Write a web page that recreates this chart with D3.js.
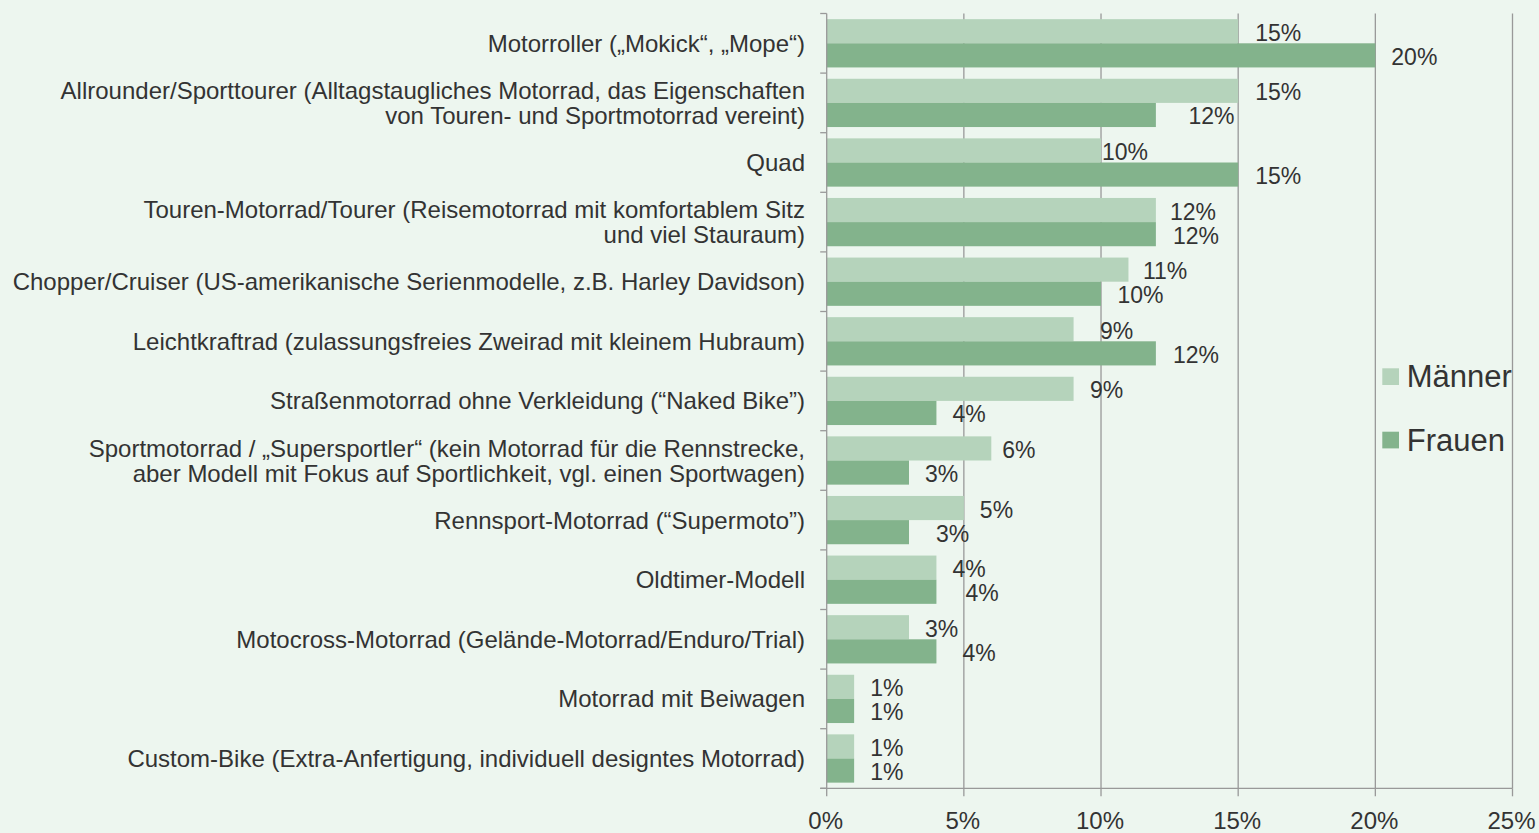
<!DOCTYPE html>
<html lang="de">
<head>
<meta charset="utf-8">
<script src="https://cdn.jsdelivr.net/npm/d3@7"></script>
<style>
  html, body { margin: 0; padding: 0; background: #edf6ef; }
  svg { display: block; font-family: "Liberation Sans", Arial, sans-serif; }
</style>
</head>
<body>
<div id="chart"></div>
<script>
/* ── Motorrad-Typen nach Geschlecht — grouped horizontal bars ── */

const categories = [
  ['Motorroller („Mokick“, „Mope“)'],
  ['Allrounder/Sporttourer (Alltagstaugliches Motorrad, das Eigenschaften',
   'von Touren- und Sportmotorrad vereint)'],
  ['Quad'],
  ['Touren-Motorrad/Tourer (Reisemotorrad mit komfortablem Sitz',
   'und viel Stauraum)'],
  ['Chopper/Cruiser (US-amerikanische Serienmodelle, z.B. Harley Davidson)'],
  ['Leichtkraftrad (zulassungsfreies Zweirad mit kleinem Hubraum)'],
  ['Straßenmotorrad ohne Verkleidung (“Naked Bike”)'],
  ['Sportmotorrad / „Supersportler“ (kein Motorrad für die Rennstrecke,',
   'aber Modell mit Fokus auf Sportlichkeit, vgl. einen Sportwagen)'],
  ['Rennsport-Motorrad (“Supermoto”)'],
  ['Oldtimer-Modell'],
  ['Motocross-Motorrad (Gelände-Motorrad/Enduro/Trial)'],
  ['Motorrad mit Beiwagen'],
  ['Custom-Bike (Extra-Anfertigung, individuell designtes Motorrad)'],
];

const seriesNames = ['Männer', 'Frauen'];
const maenner     = [15, 15, 10, 12, 11, 9, 9, 6, 5, 4, 3, 1, 1];
const frauen      = [20, 12, 15, 12, 10, 12, 4, 3, 3, 4, 4, 1, 1];
const xTicks      = [0, 5, 10, 15, 20, 25];

// ── layout ───────────────────────────────────────────────────
const W  = 1539, H = 833;
const ML = 826.7, MT = 13.5;
const plotW = 685.8, plotH = 774.8;

const COLORS = { 'Männer': '#b5d3bb', 'Frauen': '#83b38c' };
const TEXT   = '#333333';
const GRID   = '#999999';

// hand-placed data labels in the original (px shift from the default spot)
const labelNudge = {
  'Männer': [1, 1, -15, -2, -1.5, 10.5, 0.5, -5, 0, 0, 0, 0, 0],
  'Frauen': [0, 16.5, 1, 1, 0.5, 1, 0, 0, 11, 13, 10, 0, 0],
};

const rows = categories.map((lines, i) => ({
  key: i, lines,
  values: [
    { series: 'Männer', value: maenner[i] },
    { series: 'Frauen', value: frauen[i] },
  ],
}));

const svg = d3.select('#chart').append('svg')
  .attr('width', W).attr('height', H);

svg.append('rect').attr('width', W).attr('height', H).attr('fill', '#edf6ef');

const x = d3.scaleLinear().domain([0, 25]).range([ML, ML + plotW]);

const y = d3.scaleBand()
  .domain(rows.map(d => d.key))
  .range([MT, MT + plotH])
  .paddingInner(0.19).paddingOuter(0.095);

const ySub = d3.scaleBand().domain(seriesNames).range([0, y.bandwidth()]);

const step = y.step();
const pad  = (step - y.bandwidth()) / 2;

// ── gridlines ────────────────────────────────────────────────
svg.append('g')
  .selectAll('line').data(xTicks.slice(1)).join('line')
  .attr('x1', d => x(d)).attr('x2', d => x(d))
  .attr('y1', MT).attr('y2', MT + plotH)
  .attr('stroke', GRID).attr('stroke-width', 1.3);

// ── bars ─────────────────────────────────────────────────────
const groups = svg.append('g').selectAll('g').data(rows).join('g')
  .attr('transform', d => `translate(0,${y(d.key)})`);

groups.selectAll('rect').data(d => d.values).join('rect')
  .attr('x', x(0))
  .attr('y', d => ySub(d.series))
  .attr('width', d => x(d.value) - x(0))
  .attr('height', ySub.bandwidth())
  .attr('fill', d => COLORS[d.series]);

// value labels
groups.selectAll('text.val').data(d => d.values.map(v => ({ ...v, row: d.key }))).join('text')
  .attr('class', 'val')
  .attr('x', d => x(d.value) + 16 + labelNudge[d.series][d.row])
  .attr('y', d => ySub(d.series) + ySub.bandwidth() / 2 + 1.5)
  .attr('dominant-baseline', 'central')
  .attr('font-size', 23).attr('fill', TEXT)
  .text(d => `${d.value}%`);

// ── y axis ───────────────────────────────────────────────────
const yAxis = svg.append('g');
yAxis.append('line')
  .attr('x1', ML).attr('x2', ML).attr('y1', MT).attr('y2', MT + plotH)
  .attr('stroke', GRID).attr('stroke-width', 1.3);

yAxis.selectAll('line.tick')
  .data([...rows.map(d => y(d.key) - pad), MT + plotH])
  .join('line').attr('class', 'tick')
  .attr('x1', ML - 6.5).attr('x2', ML).attr('y1', d => d).attr('y2', d => d)
  .attr('stroke', GRID).attr('stroke-width', 1.3);

const catLabels = yAxis.selectAll('text').data(rows).join('text')
  .attr('text-anchor', 'end')
  .attr('font-size', 24).attr('fill', TEXT);

catLabels.selectAll('tspan').data(d => d.lines.map((t, i) => ({ t, i, n: d.lines.length, key: d.key })))
  .join('tspan')
  .attr('x', ML - 21.7)
  .attr('y', d => y(d.key) + y.bandwidth() / 2 + (d.i - (d.n - 1) / 2) * 25)
  .attr('dominant-baseline', 'central')
  .text(d => d.t);

// ── x axis ───────────────────────────────────────────────────
const xAxisG = svg.append('g');
xAxisG.append('line')
  .attr('x1', ML - 6.5).attr('x2', x(25))
  .attr('y1', MT + plotH).attr('y2', MT + plotH)
  .attr('stroke', GRID).attr('stroke-width', 1.3);

xAxisG.selectAll('line.tick').data(xTicks).join('line').attr('class', 'tick')
  .attr('x1', d => x(d)).attr('x2', d => x(d))
  .attr('y1', MT + plotH).attr('y2', MT + plotH + 8)
  .attr('stroke', GRID).attr('stroke-width', 1.3);

xAxisG.selectAll('text').data(xTicks).join('text')
  .attr('x', d => x(d) - 1).attr('y', MT + plotH + 32)
  .attr('text-anchor', 'middle').attr('dominant-baseline', 'central')
  .attr('font-size', 24).attr('fill', TEXT)
  .text(d => `${d}%`);

// ── legend ───────────────────────────────────────────────────
const legend = svg.append('g').attr('transform', 'translate(1382.3,368.3)');
const items = legend.selectAll('g').data(seriesNames).join('g')
  .attr('transform', (_, i) => `translate(0,${i * 63.4})`);
items.append('rect').attr('width', 16.7).attr('height', 16.7)
  .attr('fill', d => COLORS[d]);
items.append('text')
  .attr('x', 24.4).attr('y', 8.5)
  .attr('dominant-baseline', 'central')
  .attr('font-size', 31).attr('fill', TEXT)
  .text(d => d);
</script>
</body>
</html>
